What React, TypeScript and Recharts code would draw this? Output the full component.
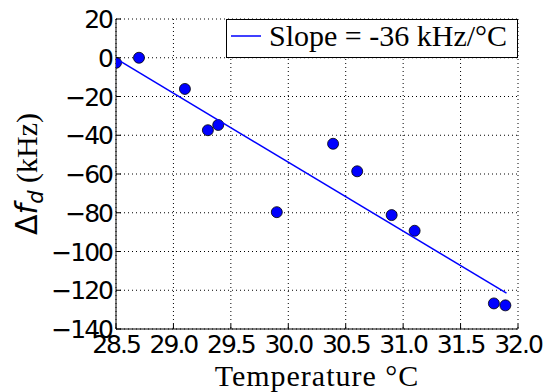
import { ScatterChart, Scatter, XAxis, YAxis, CartesianGrid, Legend } from "recharts";

// measured temperature (°C) and frequency shift (kHz)
const temperature = [28.5, 28.7, 29.1, 29.3, 29.39, 29.9, 30.39, 30.6, 30.9, 31.1, 31.79, 31.89];
const shift = [-2.6, 0, -16.1, -37.4, -34.7, -79.7, -44.4, -58.6, -81.2, -89.3, -126.8, -127.8];

// linear fit endpoints
const fitTemperature = [28.5, 31.9];
const fitShift = [-0.5, -121.5];

const xTicks = [28.5, 29, 29.5, 30, 30.5, 31, 31.5, 32];
const yTicks = [20, 0, -20, -40, -60, -80, -100, -120, -140];
const legendLabel = "Slope = -36 kHz/°C";

const points = temperature.map((t, i) => ({ t, s: shift[i] }));
const fitPoints = fitTemperature.map((t, i) => ({ t, s: fitShift[i] }));

const sans = "'DejaVu Sans', sans-serif";
const serif = "'Liberation Serif', 'Times New Roman', serif";
const TICK = 5;
const BLUE = "#0000ff";

const fmtY = (v: number) => (v < 0 ? "\u2212" + Math.abs(v) : String(v));

function BottomTick({ x, y, payload }: any) {
  return (
    <g>
      <line x1={x} x2={x} y1={y} y2={y - TICK} stroke="#000" />
      <text x={x} y={y + 24} textAnchor="middle" fontFamily={sans} fontSize={25} letterSpacing={-2} fill="#000">
        {payload.value.toFixed(1)}
      </text>
    </g>
  );
}

function TopTick({ x, y }: any) {
  return <line x1={x} x2={x} y1={y} y2={y + TICK} stroke="#000" />;
}

function LeftTick({ x, y, payload }: any) {
  return (
    <g>
      <line x1={x} x2={x + TICK} y1={y} y2={y} stroke="#000" />
      <text x={x - 4} y={y} dy="0.36em" textAnchor="end" fontFamily={sans} fontSize={25} letterSpacing={-2} fill="#000">
        {fmtY(payload.value)}
      </text>
    </g>
  );
}

function RightTick({ x, y }: any) {
  return <line x1={x} x2={x - TICK} y1={y} y2={y} stroke="#000" />;
}

function Dot({ cx, cy }: any) {
  return <circle cx={cx} cy={cy} r={5.5} fill={BLUE} stroke="#000" strokeWidth={0.8} />;
}

function XLabel({ viewBox }: any) {
  const { x, y, width } = viewBox;
  return (
    <text x={x + width / 2} y={y + 57} textAnchor="middle" fontFamily={serif} fontSize={30} letterSpacing={1} fill="#000">
      Temperature °C
    </text>
  );
}

function YLabel({ viewBox }: any) {
  const { x, y, height } = viewBox;
  const cx = x + 37;
  const cy = y + height / 2;
  return (
    <text x={cx} y={cy} transform={`rotate(-90, ${cx}, ${cy})`} textAnchor="middle" fill="#000" fontSize={30}>
      <tspan fontFamily={sans}>Δ</tspan>
      <tspan fontFamily={sans} fontStyle="italic">f</tspan>
      <tspan fontFamily={sans} fontStyle="italic" fontSize={21} dy={6}>d</tspan>
      <tspan fontFamily={serif} dy={-6}> (kHz)</tspan>
    </text>
  );
}

function LegendBox() {
  return (
    <svg width={292} height={39} style={{ display: "block" }}>
      <rect x={0.5} y={0.5} width={291} height={38} fill="#fff" stroke="#000" />
      <line x1={5} x2={35} y1={17} y2={17} stroke={BLUE} strokeWidth={1.5} />
      <text x={43} y={27} fontFamily={serif} fontSize={30} fill="#000">
        {legendLabel}
      </text>
    </svg>
  );
}

export default function App() {
  return (
    <div style={{ position: "absolute", left: 0, top: 0, background: "#fff" }}>
      <ScatterChart width={546} height={392} margin={{ top: 19, right: 28, bottom: 0, left: 0 }}>
        <CartesianGrid stroke="#000" strokeDasharray="1 3" />
        <XAxis
          dataKey="t"
          type="number"
          domain={[28.5, 32]}
          ticks={xTicks}
          interval={0}
          allowDataOverflow
          height={63}
          tickSize={0}
          tickMargin={0}
          tickLine={false}
          axisLine={{ stroke: "#000" }}
          tick={<BottomTick />}
          label={{ content: <XLabel /> }}
        />
        <XAxis
          xAxisId="top"
          orientation="top"
          type="number"
          domain={[28.5, 32]}
          ticks={xTicks}
          interval={0}
          allowDataOverflow
          height={0}
          tickSize={0}
          tickMargin={0}
          tickLine={false}
          axisLine={{ stroke: "#000" }}
          tick={<TopTick />}
        />
        <YAxis
          dataKey="s"
          type="number"
          domain={[-140, 20]}
          ticks={yTicks}
          interval={0}
          allowDataOverflow
          width={116}
          tickSize={0}
          tickMargin={0}
          tickLine={false}
          axisLine={{ stroke: "#000" }}
          tick={<LeftTick />}
          label={{ content: <YLabel /> }}
        />
        <YAxis
          yAxisId="right"
          orientation="right"
          type="number"
          domain={[-140, 20]}
          ticks={yTicks}
          interval={0}
          allowDataOverflow
          width={0}
          tickSize={0}
          tickMargin={0}
          tickLine={false}
          axisLine={{ stroke: "#000" }}
          tick={<RightTick />}
        />
        <Scatter data={points} shape={<Dot />} isAnimationActive={false} />
        <Scatter
          data={fitPoints}
          line={{ stroke: BLUE, strokeWidth: 1.5 }}
          shape={() => <g />}
          isAnimationActive={false}
        />
        <Legend
          layout="horizontal"
          verticalAlign="middle"
          align="center"
          wrapperStyle={{ left: 226, top: 19, width: 292, height: 39 }}
          content={<LegendBox />}
        />
      </ScatterChart>
    </div>
  );
}
